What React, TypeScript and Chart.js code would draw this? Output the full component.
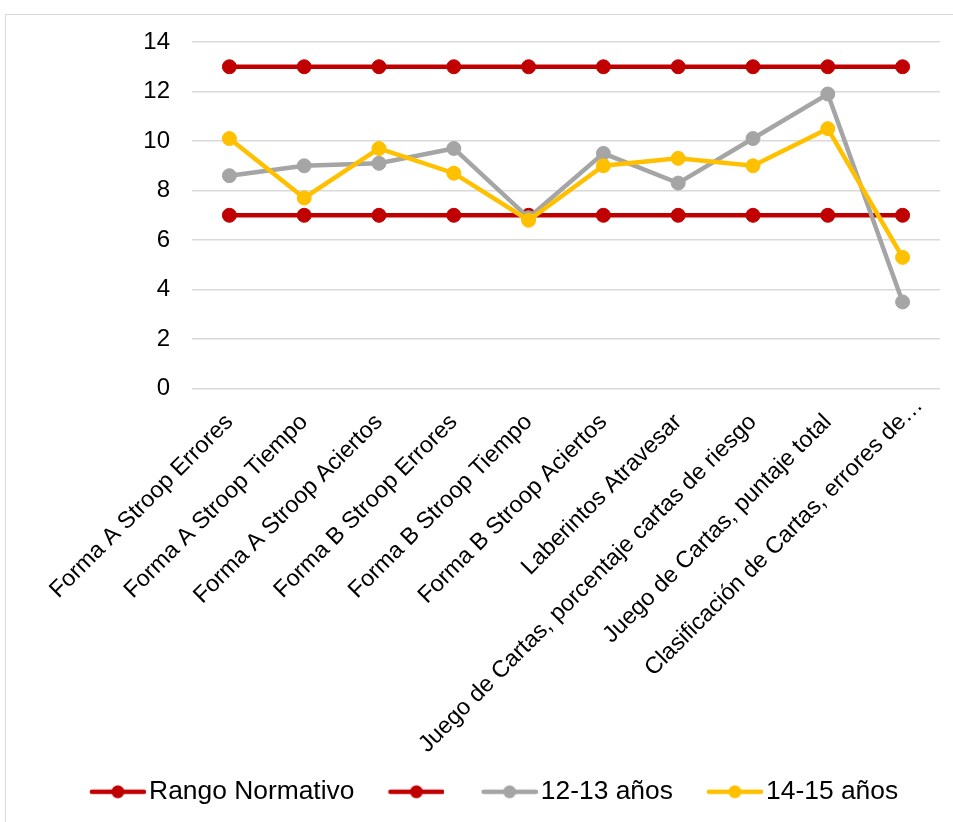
import React, { useEffect, useRef } from 'react';
import { Chart, registerables } from 'chart.js';

Chart.register(...registerables);

// Categorías del eje X
const categories = [
  'Forma A Stroop Errores',
  'Forma A Stroop Tiempo',
  'Forma A Stroop Aciertos',
  'Forma B Stroop Errores',
  'Forma B Stroop Tiempo',
  'Forma B Stroop Aciertos',
  'Laberintos Atravesar',
  'Juego de Cartas, porcentaje cartas de riesgo',
  'Juego de Cartas, puntaje total',
  'Clasificación de Cartas, errores de…',
];

// Límites del rango normativo
const rangoSuperior = [13, 13, 13, 13, 13, 13, 13, 13, 13, 13];
const rangoInferior = [7, 7, 7, 7, 7, 7, 7, 7, 7, 7];

// Puntajes por grupo de edad
const edad1213 = [8.6, 9.0, 9.1, 9.7, 6.9, 9.5, 8.3, 10.1, 11.9, 3.5];
const edad1415 = [10.1, 7.7, 9.7, 8.7, 6.8, 9.0, 9.3, 9.0, 10.5, 5.3];

// Eje Y
const yMin = 0;
const yMax = 14;
const yStep = 2;

const ROJO = '#C00000';
const GRIS = '#A5A5A5';
const AMARILLO = '#FFC000';

// Muestra de leyenda: segmento de línea con un punto al centro,
// alineado a la derecha de un lienzo con margen transparente a la izquierda.
function legendSwatch(color: string): HTMLCanvasElement {
  const c = document.createElement('canvas');
  c.width = 90;
  c.height = 16;
  const ctx = c.getContext('2d')!;
  ctx.strokeStyle = color;
  ctx.lineWidth = 4.5;
  ctx.lineCap = 'round';
  ctx.beginPath();
  ctx.moveTo(36, 8);
  ctx.lineTo(88, 8);
  ctx.stroke();
  ctx.fillStyle = color;
  ctx.beginPath();
  ctx.arc(62, 8, 6.5, 0, Math.PI * 2);
  ctx.fill();
  return c;
}

function serie(label: string, data: number[], color: string, order: number) {
  return {
    label,
    data,
    borderColor: color,
    backgroundColor: color,
    borderWidth: 4.5,
    pointRadius: 7,
    pointBorderWidth: 1,
    pointBackgroundColor: color,
    pointBorderColor: color,
    tension: 0,
    order,
  };
}

// Las etiquetas recortadas con "…" dejan los puntos suspensivos más allá de la marca
const ellipsisLabels = {
  id: 'ellipsisLabels',
  beforeDraw(chart: any) {
    const scale = chart.scales.x;
    if (!scale) return;
    const items = scale.getLabelItems(chart.chartArea);
    const ctx = chart.ctx;
    items.forEach((it: any) => {
      const text = String(it.label);
      if (!text.endsWith('…')) return;
      ctx.save();
      ctx.font = it.font.string;
      const w = ctx.measureText('…').width;
      ctx.restore();
      const rot = it.options.rotation;
      it.options.translation = [
        it.options.translation[0] + Math.cos(rot) * w,
        it.options.translation[1] + Math.sin(rot) * w,
      ];
    });
  },
};

export default function App() {
  const ref = useRef<HTMLCanvasElement>(null);

  useEffect(() => {
    const canvas = ref.current;
    if (!canvas) return;
    Chart.defaults.font.family = "'Liberation Sans', Arial, sans-serif";

    const colors = [ROJO, ROJO, GRIS, AMARILLO];
    const swatches = colors.map(legendSwatch);

    const chart = new Chart(canvas, {
      type: 'line',
      data: {
        labels: categories,
        datasets: [
          serie('Rango Normativo', rangoSuperior, ROJO, 4),
          serie('', rangoInferior, ROJO, 3),
          serie('12-13 años', edad1213, GRIS, 2),
          serie('14-15 años', edad1415, AMARILLO, 1),
        ],
      },
      plugins: [ellipsisLabels],
      options: {
        responsive: false,
        animation: false,
        layout: { padding: { left: 18, top: 27, right: 13, bottom: 7 } },
        plugins: {
          tooltip: { enabled: false },
          legend: {
            position: 'bottom',
            labels: {
              usePointStyle: true,
              pointStyleWidth: 70,
              boxHeight: 16,
              padding: 10,
              color: '#000',
              font: { size: 26.4 },
              generateLabels: (ch: any) =>
                ch.data.datasets.map((ds: any, i: number) => ({
                  text: ds.label,
                  pointStyle: swatches[i],
                  fillStyle: ds.borderColor,
                  strokeStyle: ds.borderColor,
                  lineWidth: 0,
                  hidden: false,
                  datasetIndex: i,
                  fontColor: '#000',
                })),
            },
          },
        },
        scales: {
          x: {
            offset: true,
            grid: { display: false },
            border: { display: false },
            ticks: {
              autoSkip: false,
              maxRotation: 45,
              minRotation: 45,
              padding: 12,
              color: '#000',
              font: { size: 23.4 },
            },
            afterFit: (s: any) => {
              s.height = 380;
            },
          },
          y: {
            min: yMin,
            max: yMax,
            ticks: { stepSize: yStep, padding: 3, color: '#000', font: { size: 24 } },
            grid: {
              color: '#D9D9D9',
              lineWidth: 1.5,
              drawTicks: true,
              tickLength: 19,
              tickColor: 'rgba(0,0,0,0)',
            },
            border: { display: false },
            afterFit: (s: any) => {
              s.width = 168;
            },
          },
        },
      } as any,
    });

    return () => chart.destroy();
  }, []);

  return (
    <div style={{ position: 'fixed', inset: 0, overflow: 'hidden', background: '#fff' }}>
      <div
        style={{
          position: 'absolute',
          left: 5,
          top: 14,
          width: 1000,
          height: 900,
          borderLeft: '1px solid #D9D9D9',
          borderTop: '1px solid #D9D9D9',
        }}
      >
        <canvas
          ref={ref}
          width={947}
          height={807}
          style={{ display: 'block', width: 947, height: 807 }}
        />
      </div>
    </div>
  );
}
